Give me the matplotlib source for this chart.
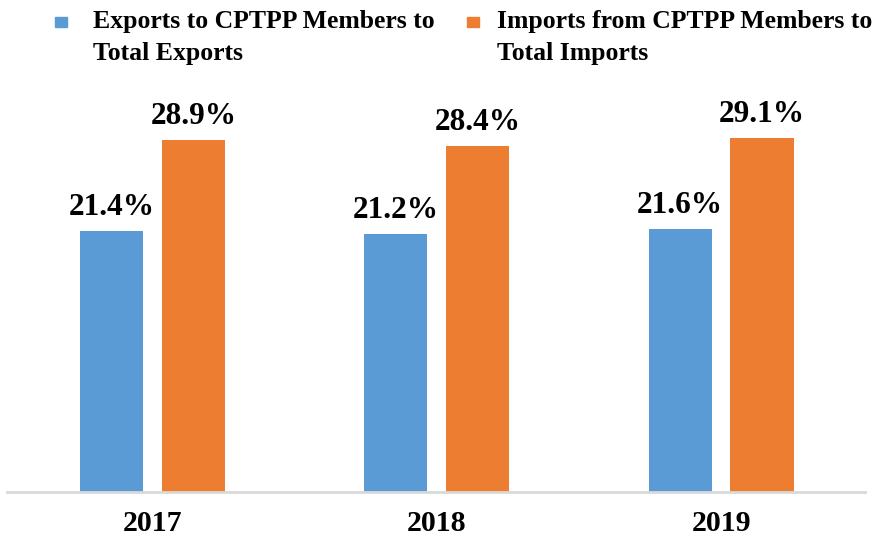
import matplotlib.pyplot as plt
from matplotlib.patches import Rectangle
import numpy as np

plt.rcParams['font.family'] = ['Liberation Serif', 'DejaVu Serif']
plt.rcParams['font.weight'] = 'bold'

years = ['2017', '2018', '2019']
exports_share = [21.4, 21.2, 21.6]
imports_share = [28.9, 28.4, 29.1]
series_labels = [['Exports to CPTPP Members to', 'Total Exports'],
                 ['Imports from CPTPP Members to', 'Total Imports']]
colors = ['#5b9bd5', '#ed7d31']

W, H = 880, 540
fig = plt.figure(figsize=(W / 100, H / 100), dpi=100)
ax = fig.add_axes([7 / W, 1 - 492 / H, (865 - 7) / W, (492 - 100) / H])

x = np.arange(len(years))
width = 0.222
offset = 0.144

for vals, dx, c in [(exports_share, -offset, colors[0]), (imports_share, offset, colors[1])]:
    bars = ax.bar(x + dx, vals, width=width, color=c, zorder=2)
    for b, v in zip(bars, vals):
        ax.text(b.get_x() + b.get_width() / 2, v + 0.75, f'{v:.1f}%',
                ha='center', va='bottom', fontsize=22.5, fontweight='bold')

ax.set_xlim(-0.511, 2.506)
ax.set_ylim(0, 32.2)
ax.set_xticks(x)
ax.set_xticklabels(years, fontsize=21.5, fontweight='bold')
ax.tick_params(axis='x', length=0, pad=13)
ax.set_yticks([])
for s in ['top', 'right', 'left']:
    ax.spines[s].set_visible(False)
ax.spines['bottom'].set_color('#d9d9d9')
ax.spines['bottom'].set_linewidth(2)

# legend
legend_pos = [(55, 93), (467, 497)]
for (sq_x, tx), lines, c in zip(legend_pos, series_labels, colors):
    fig.patches.append(Rectangle((sq_x / W, 1 - 27 / H), 12 / W, 10 / H,
                                 transform=fig.transFigure, color=c, figure=fig))
    for i, line in enumerate(lines):
        fig.text(tx / W, 1 - (28 + 32 * i) / H, line, fontsize=18.5,
                 fontweight='bold', ha='left', va='baseline')

fig.savefig('out.png', dpi=100, facecolor='white')
